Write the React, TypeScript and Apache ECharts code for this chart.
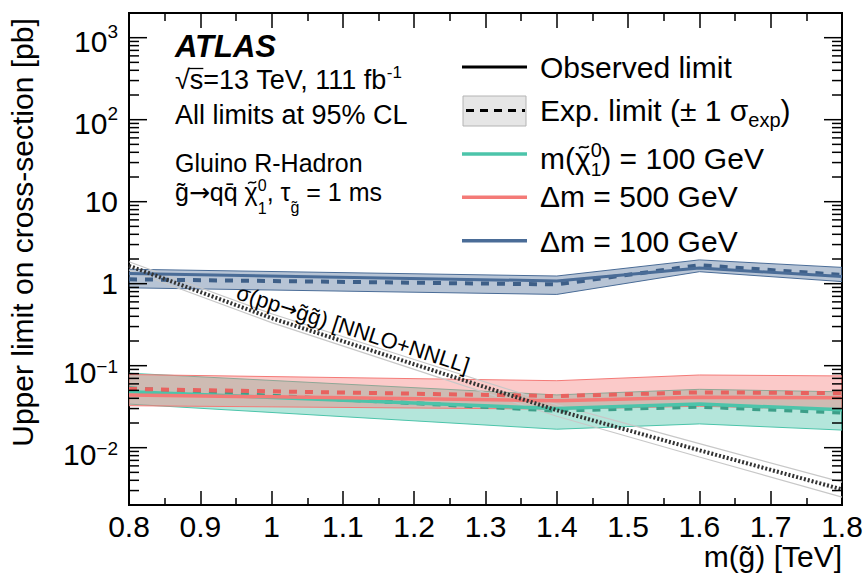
import React, { useEffect, useRef } from "react";
import * as echarts from "echarts";

const FONT = '"Liberation Sans", Arial, Helvetica, sans-serif';
const ARROW_FONT = '"DejaVu Sans", sans-serif';

const X_MIN = 0.8;
const X_MAX = 1.8;
const Y_MIN = 0.002;
const Y_MAX = 2000;

// gluino mass points [TeV]
const MASS = [0.8, 1.4, 1.6, 1.8];

// Delta m = 100 GeV
const DM100_OBS = [1.33, 1.08, 1.55, 1.22];
const DM100_EXP = [1.13, 0.98, 1.68, 1.28];
const DM100_UP = [1.5, 1.24, 1.95, 1.58];
const DM100_DN = [0.89, 0.74, 1.4, 1.06];

// Delta m = 500 GeV
const DM500_OBS = [0.044, 0.0374, 0.0411, 0.0406];
const DM500_EXP = [0.052, 0.0426, 0.0473, 0.0462];
const DM500_UP = [0.078, 0.0656, 0.077, 0.075];
const DM500_DN = [0.0325, 0.0295, 0.032, 0.029];

// m(chi) = 100 GeV
const M100_OBS = [0.048, 0.03, 0.034, 0.029];
const M100_EXP = [0.053, 0.0283, 0.0316, 0.0268];
const M100_UP = [0.081, 0.044, 0.0515, 0.048];
const M100_DN = [0.034, 0.0168, 0.0195, 0.0164];

// theory cross-section
const THEORY_MASS = [0.8, 1.0, 1.2, 1.4, 1.6, 1.8];
const THEORY_XSEC = [1.65, 0.38, 0.104, 0.0286, 0.0093, 0.0031];
const THEORY_UP = [1.85, 0.43, 0.119, 0.0335, 0.0112, 0.0038];
const THEORY_DN = [1.47, 0.335, 0.09, 0.0242, 0.0077, 0.0025];

// axis ticks / labels
const Y_LABEL_VALUES = [0.01, 0.1, 1, 10, 100, 1000];
const Y_LABEL_BASE = ["10", "10", "1", "10", "10", "10"];
const Y_LABEL_EXP = ["\u22122", "\u22121", "", "", "2", "3"];
const Y_MINOR_MANTISSA = [2, 3, 4, 5, 6, 7, 8, 9];
const Y_DECADES = [-3, -2, -1, 0, 1, 2, 3];

const TEAL = "#4cc4aa";
const RED = "#f47a77";
const BLUE = "#4a6c97";

const TILDE = "\u0303";
const BAR = "\u0304";

export default function App() {
  const ref = useRef<HTMLDivElement>(null);

  useEffect(() => {
    document.body.style.margin = "0";
    if (!ref.current) return;
    const chart = echarts.init(ref.current, undefined, { renderer: "svg" });

    const canvas = document.createElement("canvas");
    const ctx = canvas.getContext("2d")!;
    const measure = (t: string, size: number, weight = "normal", style = "normal", family = FONT) => {
      ctx.font = `${style} ${weight} ${size}px ${family}`;
      return ctx.measureText(t).width;
    };

    const txt = (
      t: string,
      x: number,
      y: number,
      size: number,
      extra: any = {},
      styleExtra: any = {}
    ) => ({
      type: "text",
      x,
      y,
      z: 100,
      silent: true,
      ...extra,
      style: {
        text: t,
        fontSize: size,
        fontFamily: FONT,
        fill: "#000",
        align: "left",
        verticalAlign: "middle",
        ...styleExtra,
      },
    });

    // a small drawn tilde accent centred at (cx, cy)
    const tildeShape = (cx: number, cy: number, size: number) => {
      const hw = size * 0.16;
      const a = size * 0.07;
      return {
        type: "bezierCurve",
        z: 100,
        silent: true,
        shape: {
          x1: cx - hw,
          y1: cy + a * 0.6,
          cpx1: cx - hw * 0.4,
          cpy1: cy - a * 1.6,
          cpx2: cx + hw * 0.4,
          cpy2: cy + a * 1.6,
          x2: cx + hw,
          y2: cy - a * 0.6,
        },
        style: { stroke: "#000", lineWidth: Math.max(1.2, size * 0.055), fill: null },
      };
    };

    type Piece = { t: string; s: number; dy?: number; adv?: number; tilde?: boolean; font?: string };
    const run = (x0: number, y: number, pieces: Piece[]) => {
      const out: any[] = [];
      let x = x0;
      pieces.forEach((p) => {
        const fam = p.font || FONT;
        out.push(txt(p.t, x, y + (p.dy || 0), p.s, {}, { fontFamily: fam }));
        const w = measure(p.t, p.s, "normal", "normal", fam);
        if (p.tilde) {
          out.push(tildeShape(x + w / 2 + 1, y + (p.dy || 0) - 0.38 * p.s, p.s));
        }
        x += p.adv !== undefined ? p.adv : w;
      });
      return out;
    };

    // y ticks data
    const yTickData: number[][] = [];
    Y_LABEL_VALUES.forEach((v) => yTickData.push([X_MIN, v, 18]));
    Y_DECADES.forEach((d) => {
      Y_MINOR_MANTISSA.forEach((m) => {
        const v = m * Math.pow(10, d);
        if (v > Y_MIN * 1.0001 && v < Y_MAX * 0.9999) yTickData.push([X_MIN, v, 10]);
      });
    });

    const bandSeries = (up: number[], dn: number[], fill: string, stroke: string) => ({
      type: "custom",
      coordinateSystem: "cartesian2d",
      data: [[X_MIN, 1]],
      encode: { x: 0, y: 1 },
      clip: true,
      silent: true,
      z: 2,
      renderItem: (params: any, api: any) => {
        const pts: number[][] = [];
        MASS.forEach((m, i) => pts.push(api.coord([m, up[i]])));
        for (let i = MASS.length - 1; i >= 0; i--) pts.push(api.coord([MASS[i], dn[i]]));
        return {
          type: "polygon",
          shape: { points: pts },
          style: { fill, stroke, lineWidth: 1 },
        };
      },
    });

    const lineSeries = (xs: number[], ys: number[], color: string, width: number, type: any, z = 3) => ({
      type: "line",
      data: xs.map((m, i) => [m, ys[i]]),
      symbol: "none",
      silent: true,
      z,
      lineStyle: { color, width, type, cap: "butt" },
    });

    const sqrtW = measure("\u221A", 27);
    const sW = measure("s", 27);

    const graphic: any[] = [
      // info block
      txt("ATLAS", 175, 46, 31, {}, { fontWeight: "bold", fontStyle: "italic" }),
      ...run(175, 80, [
        { t: "\u221As=13 TeV, 111 fb", s: 27 },
        { t: "-1", s: 17, dy: -8 },
      ]),
      {
        type: "line",
        z: 100,
        silent: true,
        shape: { x1: 175 + sqrtW - 1, y1: 68.5, x2: 175 + sqrtW + sW, y2: 68.5 },
        style: { stroke: "#000", lineWidth: 1.3 },
      },
      txt("All limits at 95% CL", 175, 115, 27),
      txt("Gluino R-Hadron", 175, 163, 25),
      ...run(175, 192, [
        { t: "g" + TILDE, s: 25 },
        { t: "\u2192", s: 25, font: ARROW_FONT },
        { t: "qq" + BAR + " ", s: 25 },
        { t: "\u03C7", s: 25, tilde: true },
        { t: "0", s: 16, dy: -6.5, adv: 0 },
        { t: "1", s: 16, dy: 16 },
        { t: ", \u03C4", s: 25 },
        { t: "g" + TILDE, s: 16, dy: 15.5 },
        { t: " = 1 ms", s: 25 },
      ]),

      // legend
      {
        type: "line",
        z: 100,
        silent: true,
        shape: { x1: 462, y1: 67, x2: 527, y2: 67 },
        style: { stroke: "#000", lineWidth: 3 },
      },
      txt("Observed limit", 540, 67.9, 30),
      {
        type: "rect",
        z: 100,
        silent: true,
        shape: { x: 463, y: 96, width: 63, height: 30 },
        style: { fill: "#e6e6e6", stroke: "#b4b4b4", lineWidth: 1 },
      },
      {
        type: "line",
        z: 101,
        silent: true,
        shape: { x1: 466, y1: 110.5, x2: 525, y2: 110.5 },
        style: { stroke: "#000", lineWidth: 3, lineDash: [8, 6] },
      },
      ...run(540, 110.3, [
        { t: "Exp. limit (\u00B1 1 \u03C3", s: 30 },
        { t: "exp", s: 20, dy: 9.5 },
        { t: ")", s: 30 },
      ]),
      {
        type: "line",
        z: 100,
        silent: true,
        shape: { x1: 462, y1: 154, x2: 527, y2: 154 },
        style: { stroke: TEAL, lineWidth: 3.5 },
      },
      ...run(540, 158.6, [
        { t: "m(", s: 30 },
        { t: "\u03C7", s: 30, tilde: true },
        { t: "0", s: 20, dy: -8.5, adv: 0 },
        { t: "1", s: 19, dy: 11 },
        { t: ") = 100 GeV", s: 30 },
      ]),
      {
        type: "line",
        z: 100,
        silent: true,
        shape: { x1: 462, y1: 197.3, x2: 527, y2: 197.3 },
        style: { stroke: RED, lineWidth: 3.5 },
      },
      txt("\u0394m = 500 GeV", 540, 196.8, 30),
      {
        type: "line",
        z: 100,
        silent: true,
        shape: { x1: 462, y1: 240.7, x2: 527, y2: 240.7 },
        style: { stroke: BLUE, lineWidth: 3.5 },
      },
      txt("\u0394m = 100 GeV", 540, 241.3, 30),

      // theory label
      {
        type: "text",
        x: 353,
        y: 329,
        z: 100,
        silent: true,
        rotation: -0.312,
        style: {
          text: "{a|\u03C3(pp}{b|\u2192}{a|g" + TILDE + "g" + TILDE + ") [NNLO+NNLL]}",
          align: "center",
          verticalAlign: "middle",
          fill: "#000",
          fontSize: 22,
          fontFamily: FONT,
          rich: {
            a: { fontSize: 22, fontFamily: FONT, fill: "#000", lineHeight: 24 },
            b: { fontSize: 21, fontFamily: ARROW_FONT, fill: "#000", lineHeight: 24 },
          },
        },
      },

      // axis titles
      txt("Upper limit on cross-section [pb]", 22.6, 232.5, 30, { rotation: Math.PI / 2 }, { align: "center" }),
      txt("m(g" + TILDE + ") [TeV]", 842, 556, 30, {}, { align: "right" }),
    ];

    const xTickCommon = {
      type: "value",
      min: X_MIN,
      max: X_MAX,
      interval: 0.1,
      axisLine: { show: false },
      splitLine: { show: false },
      minorSplitLine: { show: false },
    };

    const option: any = {
      animation: false,
      textStyle: { fontFamily: FONT },
      grid: {
        left: 129,
        right: 24,
        top: 13,
        bottom: 69,
        show: true,
        borderColor: "#000",
        borderWidth: 2,
        backgroundColor: "transparent",
      },
      xAxis: [
        {
          ...xTickCommon,
          position: "bottom",
          axisTick: { inside: true, length: 14, lineStyle: { color: "#000", width: 1.5 } },
          minorTick: { show: true, splitNumber: 2, length: 7, lineStyle: { color: "#000", width: 1.5 } },
          axisLabel: {
            fontSize: 30,
            color: "#000",
            margin: 6,
            fontFamily: FONT,
            formatter: (v: number) => String(Math.round(v * 10) / 10),
          },
        },
        {
          ...xTickCommon,
          position: "top",
          axisTick: { inside: true, length: 15, lineStyle: { color: "#000", width: 1.5 } },
          minorTick: { show: true, splitNumber: 2, length: 8, lineStyle: { color: "#000", width: 1.5 } },
          axisLabel: { show: false },
        },
      ],
      yAxis: {
        type: "log",
        logBase: 10,
        min: Y_MIN,
        max: Y_MAX,
        axisLine: { show: false },
        axisTick: { show: false },
        axisLabel: { show: false },
        splitLine: { show: false },
      },
      series: [
        bandSeries(M100_UP, M100_DN, "rgba(76,196,170,0.42)", TEAL),
        bandSeries(DM500_UP, DM500_DN, "rgba(244,122,119,0.40)", RED),
        bandSeries(DM100_UP, DM100_DN, "rgba(74,108,151,0.40)", BLUE),
        lineSeries(THEORY_MASS, THEORY_UP, "#c8c8c8", 1.2, "solid", 3),
        lineSeries(THEORY_MASS, THEORY_DN, "#c8c8c8", 1.2, "solid", 3),
        lineSeries(MASS, M100_EXP, "#3d9e88", 4, [8, 8], 4),
        lineSeries(MASS, M100_OBS, TEAL, 3.5, "solid", 4),
        lineSeries(MASS, DM500_EXP, "#e8625f", 4, [8, 8], 4),
        lineSeries(MASS, DM500_OBS, RED, 3.5, "solid", 4),
        lineSeries(MASS, DM100_EXP, "#3e5f88", 4, [8, 8], 4),
        lineSeries(MASS, DM100_OBS, BLUE, 3, "solid", 4),
        lineSeries(THEORY_MASS, THEORY_XSEC, "#333333", 4, [2, 2], 6),
        {
          type: "custom",
          coordinateSystem: "cartesian2d",
          data: yTickData,
          encode: { x: 0, y: 1 },
          clip: false,
          silent: true,
          z: 10,
          renderItem: (params: any, api: any) => {
            const v = api.value(1);
            const len = api.value(2);
            const l = api.coord([X_MIN, v]);
            const r = api.coord([X_MAX, v]);
            return {
              type: "group",
              children: [
                {
                  type: "line",
                  shape: { x1: l[0], y1: l[1], x2: l[0] + len, y2: l[1] },
                  style: { stroke: "#000", lineWidth: 1.5 },
                },
                {
                  type: "line",
                  shape: { x1: r[0], y1: r[1], x2: r[0] - len, y2: r[1] },
                  style: { stroke: "#000", lineWidth: 1.5 },
                },
              ],
            };
          },
        },
        {
          type: "custom",
          coordinateSystem: "cartesian2d",
          data: Y_LABEL_VALUES.map((v, i) => [X_MIN, v, i]),
          encode: { x: 0, y: 1 },
          clip: false,
          silent: true,
          z: 10,
          renderItem: (params: any, api: any) => {
            const i = api.value(2);
            const p = api.coord([X_MIN, api.value(1)]);
            const right = p[0] - 11;
            const exp = Y_LABEL_EXP[i];
            const base = Y_LABEL_BASE[i];
            const mk = (t: string, x: number, y: number, size: number) => ({
              type: "text",
              x,
              y,
              style: {
                text: t,
                fontSize: size,
                fontFamily: FONT,
                fill: "#000",
                align: "right",
                verticalAlign: "middle",
              },
            });
            const children: any[] = [];
            if (exp) {
              const neg = exp.charAt(0) === "\u2212";
              const ew = measure(exp, 19);
              children.push(mk(exp, right, p[1] + (neg ? 0.5 : -6.5), 19));
              children.push(mk(base, right - ew, p[1] + (neg ? 7 : 4), 30));
            } else {
              children.push(mk(base, right, p[1], 30));
            }
            return { type: "group", children };
          },
        },
      ],
      graphic,
    };

    chart.setOption(option);
    return () => chart.dispose();
  }, []);

  return <div ref={ref} style={{ width: 866, height: 574 }} />;
}
